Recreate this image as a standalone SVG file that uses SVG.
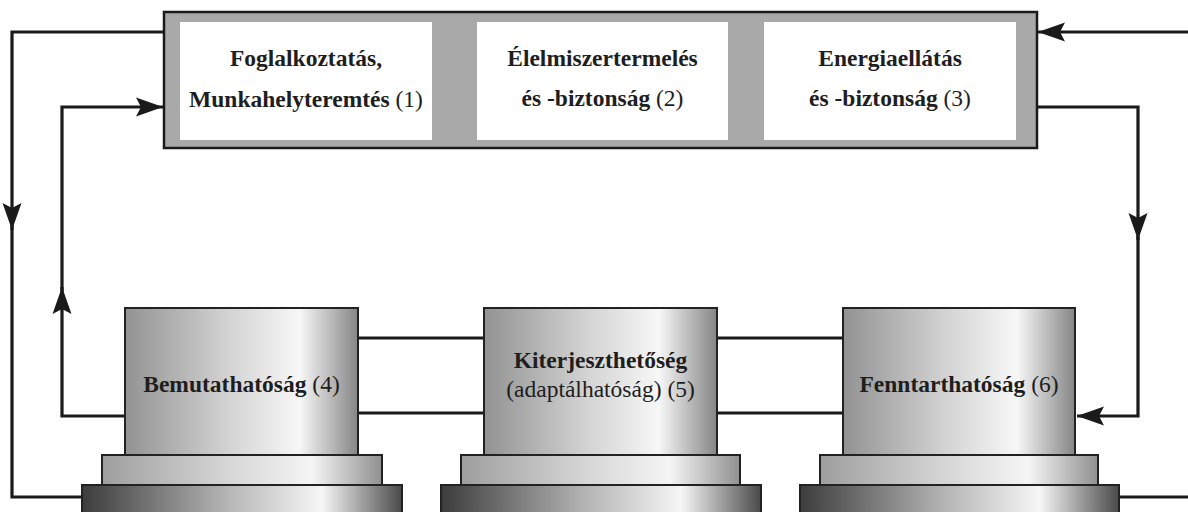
<svg xmlns="http://www.w3.org/2000/svg" width="1188" height="512" viewBox="0 0 1188 512">
<defs>
<style>
.lbl{font-family:'Liberation Serif','Tinos','DejaVu Serif','Times New Roman',serif;font-size:23.5px;fill:#1e1e1e;text-anchor:middle}
.b{font-weight:bold}
.n{font-weight:normal}
.con{fill:none;stroke:#1a1a1a;stroke-width:3.2}
.pil{stroke:#222;stroke-width:2}
.panel{fill:#fff}
</style>
<linearGradient id="gTop" x1="0" y1="0" x2="1" y2="0">
<stop offset="0" stop-color="#929292"/>
<stop offset="0.45" stop-color="#d4d4d4"/>
<stop offset="0.75" stop-color="#f7f7f7"/>
<stop offset="1" stop-color="#858585"/>
</linearGradient>
<linearGradient id="gMid" x1="0" y1="0" x2="1" y2="0">
<stop offset="0" stop-color="#9e9e9e"/>
<stop offset="0.45" stop-color="#d6d6d6"/>
<stop offset="0.75" stop-color="#f5f5f5"/>
<stop offset="1" stop-color="#909090"/>
</linearGradient>
<linearGradient id="gBot" x1="0" y1="0" x2="1" y2="0">
<stop offset="0" stop-color="#3c3c3c"/>
<stop offset="0.45" stop-color="#b4b4b4"/>
<stop offset="0.75" stop-color="#f6f6f6"/>
<stop offset="1" stop-color="#4a4a4a"/>
</linearGradient>
<marker id="ah" markerUnits="userSpaceOnUse" viewBox="-1 -11 30 22" markerWidth="30" markerHeight="22" refX="27" refY="0" orient="auto">
<path d="M0,-9.5 L27,0 L0,9.5 L5,0 Z" fill="#1a1a1a"/>
</marker>
</defs>

<g id="connectors">
<path class="con" d="M164,32 H12 V230" marker-end="url(#ah)"/>
<path class="con" d="M12,226 V497 H82"/>
<path class="con" d="M125,416 H62 V287" marker-end="url(#ah)"/>
<path class="con" d="M62,291 V107 H163" marker-end="url(#ah)"/>
<path class="con" d="M1188,32 H1038" marker-end="url(#ah)"/>
<path class="con" d="M1037,107 H1138 V240" marker-end="url(#ah)"/>
<path class="con" d="M1138,236 V416 H1077" marker-end="url(#ah)"/>
<path class="con" d="M358,338 H484 M358,413 H484 M717,338 H843 M717,413 H843"/>
<path class="con" d="M1119,497 H1188"/>
</g>

<g id="goals">
<rect x="164" y="12" width="873" height="136" fill="#a9a9a9" stroke="#1a1a1a" stroke-width="2.5"/>
<g id="n1">
<rect class="panel" x="180" y="22" width="252" height="118"/>
<text class="lbl b" x="306" y="66">Foglalkoztatás,</text>
<text class="lbl b" x="306" y="107">Munkahelyteremtés <tspan class="n">(1)</tspan></text>
</g>
<g id="n2">
<rect class="panel" x="477" y="22" width="251" height="118"/>
<text class="lbl b" x="602.5" y="66">Élelmiszertermelés</text>
<text class="lbl b" x="602.5" y="106">és -biztonság <tspan class="n">(2)</tspan></text>
</g>
<g id="n3">
<rect class="panel" x="764" y="22" width="252" height="118"/>
<text class="lbl b" x="890" y="66">Energiaellátás</text>
<text class="lbl b" x="890" y="106">és -biztonság <tspan class="n">(3)</tspan></text>
</g>
</g>

<g id="n4">
<rect class="pil" x="82" y="485" width="320" height="40" fill="url(#gBot)"/>
<rect class="pil" x="102" y="455" width="280" height="30" fill="url(#gMid)"/>
<rect class="pil" x="125" y="308" width="233" height="147" fill="url(#gTop)"/>
<text class="lbl b" x="241.5" y="392">Bemutathatóság <tspan class="n">(4)</tspan></text>
</g>

<g id="n5">
<rect class="pil" x="441" y="485" width="320" height="40" fill="url(#gBot)"/>
<rect class="pil" x="461" y="455" width="279" height="30" fill="url(#gMid)"/>
<rect class="pil" x="484" y="308" width="233" height="147" fill="url(#gTop)"/>
<text class="lbl b" x="600.5" y="368">Kiterjeszthetőség</text>
<text class="lbl n" x="600.5" y="397">(adaptálhatóság) (5)</text>
</g>

<g id="n6">
<rect class="pil" x="800" y="485" width="319" height="40" fill="url(#gBot)"/>
<rect class="pil" x="820" y="455" width="278" height="30" fill="url(#gMid)"/>
<rect class="pil" x="843" y="308" width="232" height="147" fill="url(#gTop)"/>
<text class="lbl b" x="959" y="392">Fenntarthatóság <tspan class="n">(6)</tspan></text>
</g>
</svg>
